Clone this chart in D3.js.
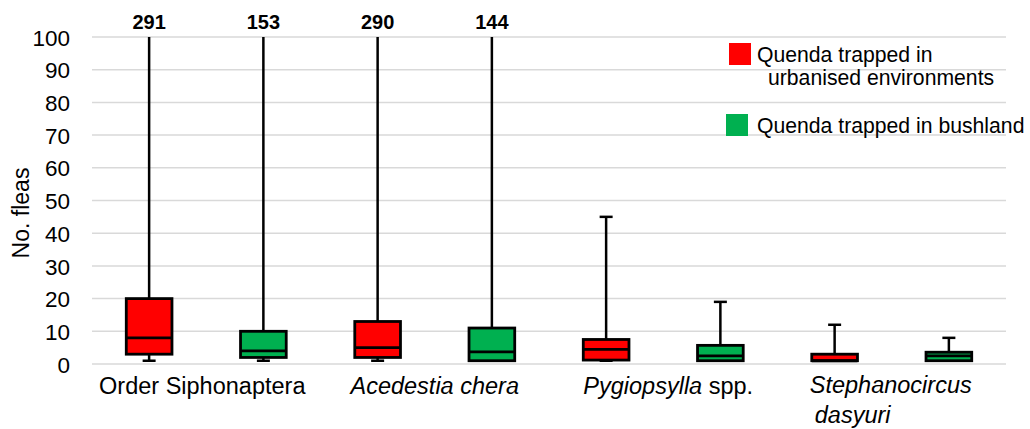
<!DOCTYPE html>
<html>
<head>
<meta charset="utf-8">
<script src="https://cdn.jsdelivr.net/npm/d3@7"></script>
<style>
  html, body { margin: 0; padding: 0; background: #fff; }
  svg { display: block; font-family: "Liberation Sans", Arial, sans-serif; }
</style>
</head>
<body>
<svg id="chart" width="1030" height="429"></svg>
<script>
// Flea counts per quenda, summarised as box plots (min, Q1, median, Q3, max)
const taxa = ["Order Siphonaptera", "Acedestia chera", "Pygiopsylla spp.", "Stephanocircus dasyuri"];
const habitats = ["Quenda trapped in urbanised environments", "Quenda trapped in bushland"];
const habitatColors = ["#ff0000", "#00b050"];

// one entry per box, ordered taxon by taxon (urbanised, bushland)
const boxTaxon   = [0, 0, 1, 1, 2, 2, 3, 3];
const boxHabitat = [0, 1, 0, 1, 0, 1, 0, 1];
const minVals    = [1, 1, 1, 1, 1, 1, 1, 1];
const q1Vals     = [3, 2, 2, 1, 1.2, 1, 1, 1];
const medianVals = [8, 4, 5, 3.7, 4.5, 2.5, 1, 2.5];
const q3Vals     = [20, 10, 13, 11, 7.5, 5.7, 3, 3.6];
const maxVals    = [291, 153, 290, 144, 45, 19, 12, 8];

const yTicks = [0, 10, 20, 30, 40, 50, 60, 70, 80, 90, 100];

const svg = d3.select("#chart");
const plot = { left: 92, right: 1006, top: 37, bottom: 364 };

const x = d3.scaleBand()
  .domain(d3.range(boxTaxon.length))
  .range([plot.left, plot.right])
  .paddingInner(0).paddingOuter(0);

const y = d3.scaleLinear()
  .domain([0, 100])
  .range([plot.bottom, plot.top])
  .clamp(true);

// horizontal gridlines
svg.append("g")
  .selectAll("line")
  .data(yTicks)
  .join("line")
  .attr("x1", plot.left).attr("x2", plot.right)
  .attr("y1", d => y(d)).attr("y2", d => y(d))
  .attr("stroke", "#d9d9d9")
  .attr("stroke-width", 1.5);

// y axis tick labels
const yAxis = d3.axisLeft(y).tickValues(yTicks).tickSize(0).tickPadding(0);
const gy = svg.append("g")
  .attr("transform", "translate(70,0)")
  .call(yAxis);
gy.select(".domain").remove();
gy.selectAll("text")
  .attr("font-family", "Liberation Sans, Arial, sans-serif")
  .attr("font-size", 22.5)
  .attr("fill", "#000")
  .attr("dy", "0.36em");

// y axis title
svg.append("text")
  .attr("transform", `translate(29,${(168 + 258) / 2}) rotate(-90)`)
  .attr("text-anchor", "middle")
  .attr("font-size", 23)
  .attr("fill", "#000")
  .text("No. fleas");

const boxW = x.bandwidth() * 0.4;
const capW = 13;
const idx = d3.range(boxTaxon.length);
const cx = i => x(i) + x.bandwidth() / 2;

const boxes = svg.append("g");

// upper whiskers (clipped at the top of the axis)
boxes.selectAll("line.upper")
  .data(idx).join("line")
  .attr("class", "upper")
  .attr("x1", cx).attr("x2", cx)
  .attr("y1", i => y(q3Vals[i])).attr("y2", i => y(maxVals[i]))
  .attr("stroke", "#000").attr("stroke-width", 2.5);

// caps on upper whiskers that end inside the axis range
boxes.selectAll("line.ucap")
  .data(idx.filter(i => maxVals[i] <= 100)).join("line")
  .attr("class", "ucap")
  .attr("x1", i => cx(i) - capW / 2).attr("x2", i => cx(i) + capW / 2)
  .attr("y1", i => y(maxVals[i])).attr("y2", i => y(maxVals[i]))
  .attr("stroke", "#000").attr("stroke-width", 2.5);

// lower whiskers and caps
boxes.selectAll("line.lower")
  .data(idx).join("line")
  .attr("class", "lower")
  .attr("x1", cx).attr("x2", cx)
  .attr("y1", i => y(q1Vals[i])).attr("y2", i => y(minVals[i]))
  .attr("stroke", "#000").attr("stroke-width", 2.5);

boxes.selectAll("line.lcap")
  .data(idx).join("line")
  .attr("class", "lcap")
  .attr("x1", i => cx(i) - capW / 2).attr("x2", i => cx(i) + capW / 2)
  .attr("y1", i => y(minVals[i])).attr("y2", i => y(minVals[i]))
  .attr("stroke", "#000").attr("stroke-width", 2.5);

// interquartile boxes
boxes.selectAll("rect")
  .data(idx).join("rect")
  .attr("x", i => cx(i) - boxW / 2)
  .attr("width", boxW)
  .attr("y", i => y(q3Vals[i]))
  .attr("height", i => y(q1Vals[i]) - y(q3Vals[i]))
  .attr("fill", i => habitatColors[boxHabitat[i]])
  .attr("stroke", "#000").attr("stroke-width", 2.8);

// medians
boxes.selectAll("line.median")
  .data(idx).join("line")
  .attr("class", "median")
  .attr("x1", i => cx(i) - boxW / 2).attr("x2", i => cx(i) + boxW / 2)
  .attr("y1", i => y(medianVals[i])).attr("y2", i => y(medianVals[i]))
  .attr("stroke", "#000").attr("stroke-width", 2.8);

// maxima beyond the axis range, written above the plot
svg.append("g")
  .selectAll("text")
  .data(idx.filter(i => maxVals[i] > 100)).join("text")
  .attr("x", cx)
  .attr("y", 29)
  .attr("text-anchor", "middle")
  .attr("font-size", 20)
  .attr("font-weight", "bold")
  .attr("fill", "#000")
  .text(i => maxVals[i]);

// category labels under each pair of boxes
const pairCenter = t => (cx(t * 2) + cx(t * 2 + 1)) / 2;
const labels = svg.append("g").attr("font-size", 23.5).attr("fill", "#000");

labels.append("text")
  .attr("x", pairCenter(0) - 4).attr("y", 394)
  .attr("text-anchor", "middle")
  .text(taxa[0]);

labels.append("text")
  .attr("x", pairCenter(1)).attr("y", 394)
  .attr("text-anchor", "middle")
  .attr("font-style", "italic")
  .text(taxa[1]);

const pyg = labels.append("text")
  .attr("x", pairCenter(2) + 5).attr("y", 394)
  .attr("text-anchor", "middle");
pyg.append("tspan").attr("font-style", "italic").text(taxa[2].split(" ")[0]);
pyg.append("tspan").text(" " + taxa[2].split(" ")[1]);

const steph = taxa[3].split(" ");
const s1 = labels.append("text")
  .attr("x", pairCenter(3) - 1).attr("y", 393)
  .attr("text-anchor", "middle")
  .attr("font-style", "italic")
  .text(steph[0]);
const s1w = s1.node().getComputedTextLength();
labels.append("text")
  .attr("x", pairCenter(3) - 1 - s1w / 2 + 5).attr("y", 423)
  .attr("font-style", "italic")
  .text(steph[1]);

// legend
const legend = svg.append("g").attr("font-size", 21.2).attr("fill", "#000");
legend.append("rect")
  .attr("x", 729).attr("y", 43).attr("width", 22).attr("height", 22)
  .attr("fill", habitatColors[0]);
legend.append("text").attr("x", 757).attr("y", 62).text("Quenda trapped in");
legend.append("text").attr("x", 768).attr("y", 85).text("urbanised environments");
legend.append("rect")
  .attr("x", 726).attr("y", 114).attr("width", 22).attr("height", 22)
  .attr("fill", habitatColors[1]);
legend.append("text").attr("x", 757).attr("y", 133).text(habitats[1]);
</script>
</body>
</html>
